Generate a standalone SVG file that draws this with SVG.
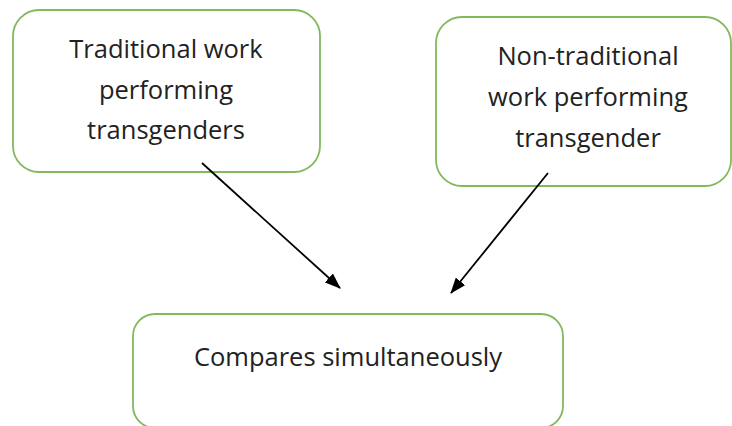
<svg xmlns="http://www.w3.org/2000/svg" width="732" height="426" viewBox="0 0 732 426">
  <defs>
    <marker id="ah" viewBox="0 0 16 12" refX="15" refY="6" markerWidth="16" markerHeight="12" markerUnits="userSpaceOnUse" orient="auto">
      <path d="M0,0 L16,6 L0,12 z" fill="#000"/>
    </marker>
    <style>
      .box { fill: #fff; stroke: #82b85e; stroke-width: 1.8; }
      .lbl { font-family: "Open Sans", "Noto Sans", sans-serif; font-size: 25.5px; fill: #222; text-anchor: middle; }
      .conn { stroke: #000; stroke-width: 1.8; fill: none; }
    </style>
  </defs>
  <rect width="732" height="426" fill="#fff"/>
  <g id="node-traditional">
    <rect class="box" x="13" y="10" width="307" height="162" rx="26"/>
    <text class="lbl" x="166" y="58">Traditional work</text>
    <text class="lbl" x="166" y="99">performing</text>
    <text class="lbl" x="166" y="139">transgenders</text>
  </g>
  <g id="node-nontraditional">
    <rect class="box" x="436" y="17" width="295" height="169" rx="26"/>
    <text class="lbl" x="588" y="65">Non-traditional</text>
    <text class="lbl" x="588" y="106">work performing</text>
    <text class="lbl" x="588" y="147">transgender</text>
  </g>
  <g id="node-compares">
    <rect class="box" x="133" y="314" width="430" height="114" rx="22"/>
    <text class="lbl" x="348" y="366">Compares simultaneously</text>
  </g>
  <g id="connectors">
    <line class="conn" x1="202" y1="163" x2="340" y2="288" marker-end="url(#ah)"/>
    <line class="conn" x1="548" y1="173" x2="451" y2="293" marker-end="url(#ah)"/>
  </g>
</svg>
